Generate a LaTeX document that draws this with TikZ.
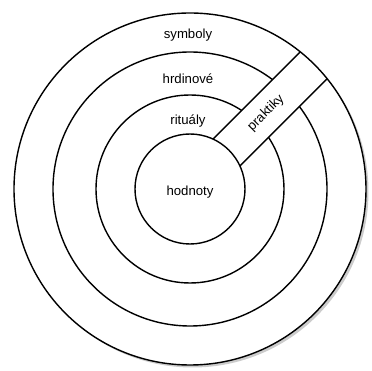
\documentclass[tikz,border=0pt]{standalone}
\usepackage{fontspec}
\setmainfont{Liberation Sans}
\begin{document}
\begin{tikzpicture}[ring/.style={line width=0.8pt},
lbl/.style={font=\fontsize{7.5}{9}\selectfont}]
\useasboundingbox (-3.80,-3.64) rectangle (3.64,3.78);
\fill[gray!40] (0.05,-0.05) circle (3.52);
\fill[white] (0,0) circle (3.52);

\draw[ring] (0,0) circle (2.74);
\draw[ring] (0,0) circle (1.88);

\begin{scope}[rotate=45]
\fill[white] (1.0,-0.38) rectangle (3.4,0.38);
\draw[ring] (1.032,0.38) -- (3.499,0.38);
\draw[ring] (1.032,-0.38) -- (3.499,-0.38);
\end{scope}

\draw[ring,fill=white] (0,0) circle (1.10);
\draw[ring] (0,0) circle (3.52);

\node[lbl] (symboly) at (-0.04,3.08) {symboly};
\node[lbl] (hrdinove) at (-0.04,2.20) {hrdinové};
\node[lbl] (ritualy) at (-0.04,1.36) {rituály};
\node[lbl] (hodnoty) at (0,-0.06) {hodnoty};
\node[lbl,rotate=45] (praktiky) at (45:2.15) {praktiky};
\end{tikzpicture}
\end{document}
